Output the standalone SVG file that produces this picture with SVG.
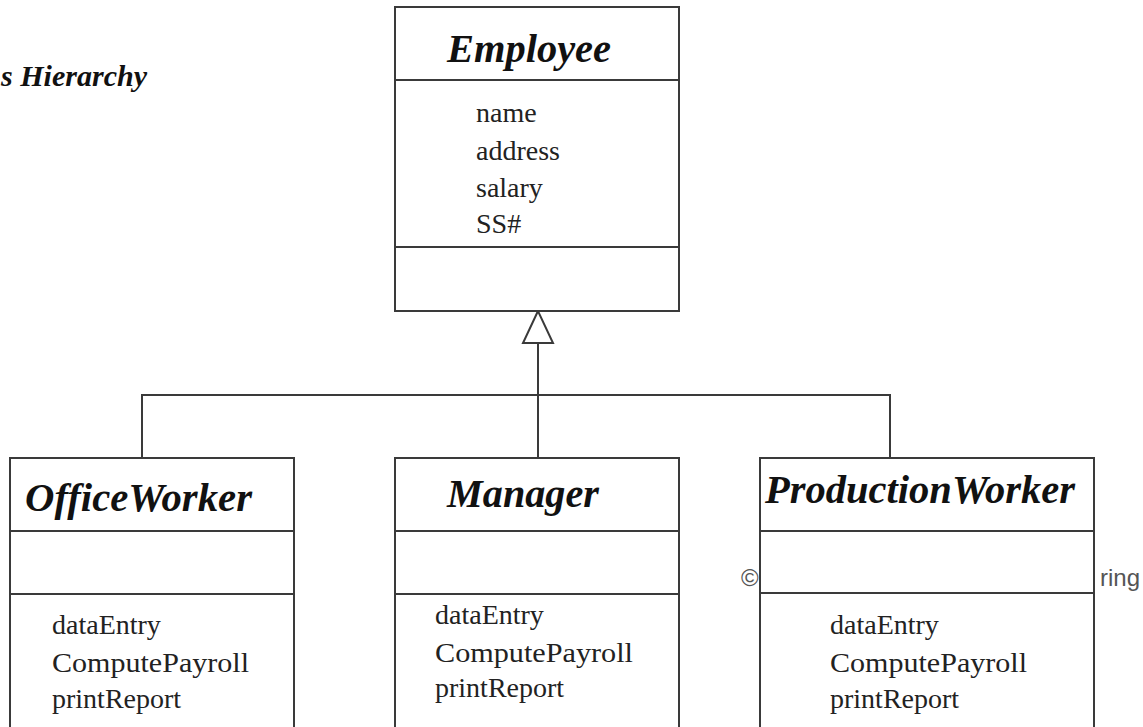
<svg xmlns="http://www.w3.org/2000/svg" width="1143" height="727" viewBox="0 0 1143 727">
<style>
.box{fill:#fff;stroke:#3a3a3a;stroke-width:2}
.div{stroke:#3a3a3a;stroke-width:2;fill:none}
.title{font-family:"Liberation Serif","Times New Roman",serif;font-weight:bold;font-style:italic;font-size:39px;fill:#111}
.item{font-family:"Liberation Serif","Times New Roman",serif;font-size:28px;fill:#222}
.conn{stroke:#3a3a3a;stroke-width:2;fill:none}
.wm{font-family:"Liberation Sans",Arial,sans-serif;font-size:24px;fill:#555}
</style>
<rect width="1143" height="727" fill="#fff"/>
<text x="1" y="86" class="title" style="font-size:29px" textLength="146" lengthAdjust="spacingAndGlyphs">s Hierarchy</text>
<text class="wm" x="741" y="586">©</text>
<text class="wm" x="1100" y="586">ring</text>
<g id="connectors">
<path class="conn" d="M538 343 V458 M142 458 V395 H890 V458"/>
<polygon points="538,311 523,343 553,343" fill="#fff" stroke="#3a3a3a" stroke-width="2"/>
</g>
<g id="employee">
<rect class="box" x="395" y="7" width="284" height="304"/>
<path class="div" d="M395 80 H679 M395 247 H679"/>
<text class="title" x="447" y="62" textLength="164" lengthAdjust="spacingAndGlyphs">Employee</text>
<text class="item" x="476" y="122">name</text>
<text class="item" x="476" y="160">address</text>
<text class="item" x="476" y="197">salary</text>
<text class="item" x="476" y="233">SS#</text>
</g>
<g id="officeworker">
<rect class="box" x="10" y="458" width="284" height="290"/>
<path class="div" d="M10 531 H294 M10 594 H294"/>
<text class="title" x="25" y="511" textLength="227" lengthAdjust="spacingAndGlyphs">OfficeWorker</text>
<text class="item" x="52" y="634">dataEntry</text>
<text class="item" x="52" y="672" textLength="197" lengthAdjust="spacingAndGlyphs">ComputePayroll</text>
<text class="item" x="52" y="708">printReport</text>
</g>
<g id="manager">
<rect class="box" x="395" y="458" width="284" height="290"/>
<path class="div" d="M395 531 H679 M395 594 H679"/>
<text class="title" x="447" y="507" textLength="152" lengthAdjust="spacingAndGlyphs">Manager</text>
<text class="item" x="435" y="624">dataEntry</text>
<text class="item" x="435" y="662" textLength="198" lengthAdjust="spacingAndGlyphs">ComputePayroll</text>
<text class="item" x="435" y="697">printReport</text>
</g>
<g id="productionworker">
<rect class="box" x="760" y="458" width="334" height="290"/>
<path class="div" d="M760 531 H1094 M760 593 H1094"/>
<text class="title" x="765" y="503" textLength="310" lengthAdjust="spacingAndGlyphs">ProductionWorker</text>
<text class="item" x="830" y="634">dataEntry</text>
<text class="item" x="830" y="672" textLength="197" lengthAdjust="spacingAndGlyphs">ComputePayroll</text>
<text class="item" x="830" y="708">printReport</text>
</g>
</svg>
